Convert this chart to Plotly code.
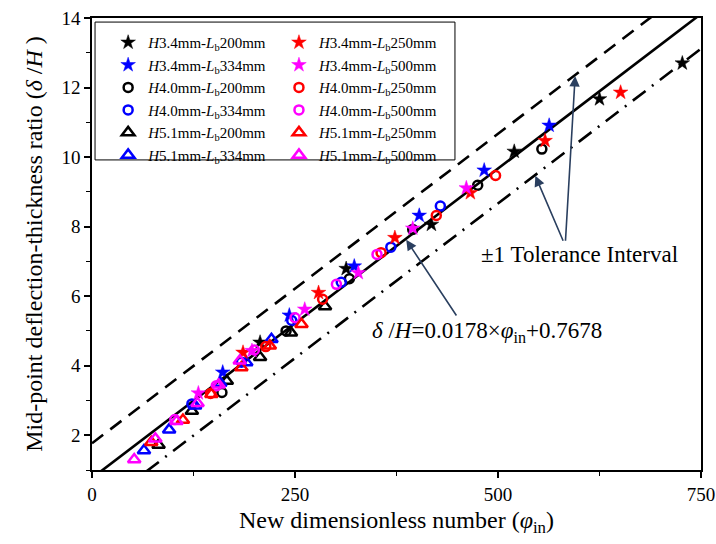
import plotly.graph_objects as go

# ---------------- data ----------------
# H3.4 mm series (stars)
phi_h34_200 = [207, 313, 418, 520, 625, 727]
dh_h34_200 = [4.67, 6.79, 8.06, 10.16, 11.67, 12.70]
phi_h34_250 = [186, 279, 373, 466, 558, 651]
dh_h34_250 = [4.38, 6.10, 7.68, 8.97, 10.47, 11.86]
phi_h34_334 = [161, 243, 323, 403, 483, 563]
dh_h34_334 = [3.81, 5.45, 6.86, 8.32, 9.62, 10.91]
phi_h34_500 = [131, 197, 262, 328, 395, 461]
dh_h34_500 = [3.21, 4.43, 5.62, 6.67, 7.95, 9.11]
# H4.0 mm series (circles)
phi_h40_200 = [160, 239, 317, 395, 475, 554]
dh_h40_200 = [3.23, 5.00, 6.50, 7.92, 9.19, 10.23]
phi_h40_250 = [146, 214, 284, 356, 424, 497]
dh_h40_250 = [3.20, 4.55, 5.91, 7.25, 8.32, 9.47]
phi_h40_334 = [123, 184, 246, 307, 368, 429]
dh_h40_334 = [2.90, 4.10, 5.30, 6.40, 7.41, 8.59]
phi_h40_500 = [102, 153, 200, 250, 301, 351]
dh_h40_500 = [2.45, 3.42, 4.45, 5.38, 6.34, 7.20]
# H5.1 mm series (triangles)
phi_h51_200 = [82, 123, 166, 207, 245, 287]
dh_h51_200 = [1.72, 2.70, 3.56, 4.24, 4.95, 5.70]
phi_h51_250 = [73, 112, 147, 184, 219, 258]
dh_h51_250 = [1.80, 2.44, 3.18, 3.95, 4.57, 5.19]
phi_h51_334 = [64, 95, 127, 158, 190, 221]
dh_h51_334 = [1.56, 2.16, 2.85, 3.50, 4.09, 4.76]
phi_h51_500 = [52, 78, 104, 130, 156, 182]
dh_h51_500 = [1.30, 1.90, 2.40, 2.92, 3.45, 4.14]

# fitted relation and tolerance
fit_slope = 0.0178
fit_intercept = 0.7678
tolerance = 1.0
fit_x = [0, 750]

x_ticks = [0, 250, 500, 750]
y_ticks = [2, 4, 6, 8, 10, 12, 14]

FONT = "Liberation Serif"
BLACK, RED, BLUE, MAG = "#000000", "#ff0000", "#0000ff", "#ff00ff"

series = [
    # (x, y, H, Lb, symbol, color, legend)
    (phi_h34_200, dh_h34_200, "3.4", "200", "star", BLACK, "legend"),
    (phi_h34_334, dh_h34_334, "3.4", "334", "star", BLUE, "legend"),
    (phi_h40_200, dh_h40_200, "4.0", "200", "circle-open", BLACK, "legend"),
    (phi_h40_334, dh_h40_334, "4.0", "334", "circle-open", BLUE, "legend"),
    (phi_h51_200, dh_h51_200, "5.1", "200", "triangle-up-open", BLACK, "legend"),
    (phi_h51_334, dh_h51_334, "5.1", "334", "triangle-up-open", BLUE, "legend"),
    (phi_h34_250, dh_h34_250, "3.4", "250", "star", RED, "legend2"),
    (phi_h34_500, dh_h34_500, "3.4", "500", "star", MAG, "legend2"),
    (phi_h40_250, dh_h40_250, "4.0", "250", "circle-open", RED, "legend2"),
    (phi_h40_500, dh_h40_500, "4.0", "500", "circle-open", MAG, "legend2"),
    (phi_h51_250, dh_h51_250, "5.1", "250", "triangle-up-open", RED, "legend2"),
    (phi_h51_500, dh_h51_500, "5.1", "500", "triangle-up-open", MAG, "legend2"),
]

fig = go.Figure()

# fitted line and tolerance lines
fit_y = [fit_slope * v + fit_intercept for v in fit_x]
up_y = [fit_slope * v + fit_intercept + tolerance for v in fit_x]
lo_y = [fit_slope * v + fit_intercept - tolerance for v in fit_x]
fig.add_trace(go.Scatter(x=fit_x, y=up_y, mode="lines", showlegend=False,
                         line=dict(color="black", width=2.6, dash="14px,9px")))
fig.add_trace(go.Scatter(x=fit_x, y=lo_y, mode="lines", showlegend=False,
                         line=dict(color="black", width=2.6, dash="16px,8px,2px,8px")))
fig.add_trace(go.Scatter(x=fit_x, y=fit_y, mode="lines", showlegend=False,
                         line=dict(color="black", width=2.6)))

for xs, ys, h, lb, sym, col, leg in series:
    if sym == "star":
        mk = dict(symbol="star", size=11, color=col, line=dict(width=0.5, color=col))
    elif sym == "circle-open":
        mk = dict(symbol="circle-open", size=9, color=col, line=dict(width=2.5, color=col))
    else:
        mk = dict(symbol="triangle-up-open", size=11, color=col, line=dict(width=2.5, color=col))
    fig.add_trace(go.Scatter(
        x=xs, y=ys, mode="markers", marker=mk, legend=leg,
        name=f"<i>H</i>{h}mm-<i>L</i><sub>b</sub>{lb}mm",
    ))

annotations = [
    dict(x=595, y=12.33, ax=583, ay=7.55, xref="x", yref="y", axref="x", ayref="y",
         showarrow=True, arrowhead=2, arrowsize=1.3, arrowwidth=1.6, text=""),
    dict(x=546, y=9.46, ax=581, ay=7.55, xref="x", yref="y", axref="x", ayref="y",
         showarrow=True, arrowhead=2, arrowsize=1.3, arrowwidth=1.6, text=""),
    dict(x=387, y=7.62, ax=450, ay=5.40, xref="x", yref="y", axref="x", ayref="y",
         showarrow=True, arrowhead=2, arrowsize=1.3, arrowwidth=1.6, text=""),
    dict(x=600, y=7.2, xref="x", yref="y", showarrow=False,
         text="±1 Tolerance Interval",
         font=dict(family=FONT, size=23, color="black")),
    dict(x=486, y=4.98, xref="x", yref="y", showarrow=False,
         text="<i>δ</i> /<i>H</i>=0.0178×<i>φ</i><sub>in</sub>+0.7678",
         font=dict(family=FONT, size=23, color="black")),
]

leg_common = dict(font=dict(family=FONT, size=15, color="black"),
                  bgcolor="rgba(0,0,0,0)", borderwidth=0,
                  xanchor="left", yanchor="top", tracegroupgap=0)

fig.update_layout(
    width=716, height=544,
    margin=dict(l=92, r=15, t=18, b=74),
    paper_bgcolor="white", plot_bgcolor="white",
    font=dict(family=FONT, size=19, color="black"),
    annotations=annotations,
    legend=dict(x=0.0265, y=0.982, **leg_common),
    legend2=dict(x=0.307, y=0.982, **leg_common),
    shapes=[dict(type="rect", xref="paper", yref="paper",
                 x0=0.005, x1=0.596, y0=0.686, y1=0.991,
                 line=dict(color="black", width=1))],
)

fig.update_xaxes(
    range=[0, 750], tickvals=x_ticks, showgrid=False, zeroline=False,
    showline=True, linecolor="black", linewidth=1.5, mirror=True, automargin=False,
    ticks="outside", ticklen=6, tickwidth=1.5, tickcolor="black",
    minor=dict(dtick=125, ticks="outside", ticklen=4, tickwidth=1.2, tickcolor="black"),
    tickfont=dict(family=FONT, size=19),
    title=dict(text="New dimensionless number (<i>φ</i><sub>in</sub>)",
               font=dict(family=FONT, size=24), standoff=8),
)
fig.update_yaxes(
    range=[1, 14], tickvals=y_ticks, showgrid=False, zeroline=False,
    showline=True, linecolor="black", linewidth=1.5, mirror=True, automargin=False,
    ticks="outside", ticklen=6, tickwidth=1.5, tickcolor="black",
    minor=dict(dtick=1, tick0=1, ticks="outside", ticklen=4, tickwidth=1.2, tickcolor="black"),
    tickfont=dict(family=FONT, size=19),
    title=dict(text="Mid-point deflection-thickness ratio (<i>δ</i> /<i>H</i> )",
               font=dict(family=FONT, size=24), standoff=12),
)

fig.write_html("out.html", config={"displayModeBar": False},
               post_script="document.body.style.margin='0px';document.body.style.padding='0px';")
